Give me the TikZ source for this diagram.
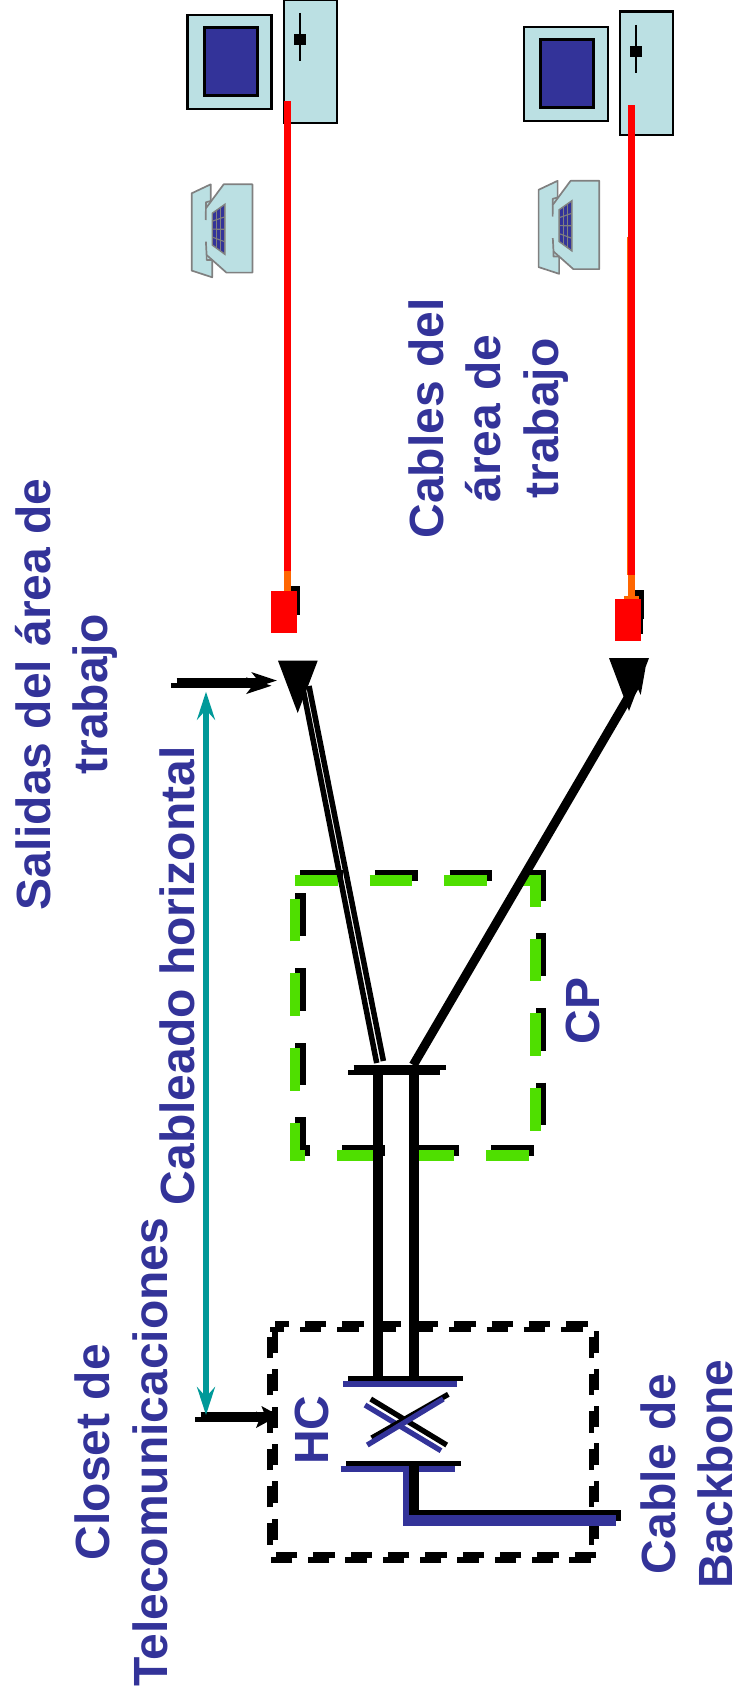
\documentclass[tikz,border=0pt]{standalone}
\usepackage{fontspec}
\usetikzlibrary{arrows.meta}
\newfontfamily\lblfam{Liberation Sans}
\newcommand{\lblfont}{\lblfam\bfseries\fontsize{48}{57.5}\selectfont}
\definecolor{hcblue}{HTML}{333399}
\definecolor{pcfill}{HTML}{BBE0E3}
\definecolor{cpgreen}{HTML}{4FDF00}
\definecolor{spanteal}{HTML}{009999}
\definecolor{jackorange}{HTML}{FF6600}
\begin{document}
\begin{tikzpicture}[x=1pt,y=-1pt,
 lbl/.style={text=hcblue,font=\lblfont,align=center,rotate=90,inner sep=0pt},
 redcable/.style={red,line width=6.5pt},
 orangecable/.style={jackorange,line width=6.5pt},
 plug/.style={fill=red,minimum width=26pt,minimum height=42pt,inner sep=0pt},
 socket/.style={fill=black,minimum width=15pt,minimum height=29pt,inner sep=0pt},
 thickblack/.style={black,line width=10.67pt},
 bar/.style={line width=5.33pt},
 pair/.style={black,line width=5.5pt},
 cpdash/.style={line width=10.67pt,dash pattern=on 42.67pt off 32pt},
 hcdash/.style={black,line width=5.33pt,dash pattern=on 21.33pt off 16pt,dash phase=7.33pt},
 note/.style={black,line width=5.33pt,-{Stealth[length=25pt,width=16pt,inset=6pt]}},
 shortnote/.style={black,line width=5.33pt,-{Stealth[length=15pt,width=16pt,inset=3pt]}},
 span/.style={spanteal,line width=5.33pt,{Stealth[length=28pt,width=18pt,inset=10pt]}-{Stealth[length=28pt,width=18pt,inset=10pt]}},
 pcset/.pic={
   \draw[fill=pcfill,line width=2.2pt] (1,1) rectangle (85,95);
   \draw[fill=hcblue,line width=3pt] (17.9,13.5) rectangle (71.2,81.5);
   \draw[fill=pcfill,line width=2.2pt] (97.2,-14.5) rectangle (150.2,109.3);
   \draw[line width=1.7pt] (113.7,-1) -- (113.7,47);
   \fill (107.7,20) rectangle (119.2,31);
 },
 phone/.pic={
   \fill[pcfill] (0,9) -- (19,0) -- (19,17) -- (32,0) -- (60.7,0) -- (60.7,88.3) -- (34.7,88.3)
     -- (20.5,75.7) -- (20.5,93) -- (0,86.3) -- cycle;
   \draw[gray,line width=1.7pt,line join=round] (14,35.7) -- (14.2,24) -- (32,0) -- (60.7,0)
     -- (60.7,88.3) -- (34.7,88.3) -- (14.9,70.7) -- (14.2,57.3);
   \draw[gray,line width=1.7pt,line join=round] (14.2,24) -- (14.2,18) -- (19,16.7) -- (19,0) -- (0,9)
     -- (0,86.3) -- (20.5,93) -- (20.5,75.7) -- (14.9,75.7) -- (14.9,70.7);
   \draw[gray,fill=hcblue,line width=1.4pt] (20.5,29) -- (33.2,20) -- (33.2,70) -- (20.5,60.7) -- cycle;
   \foreach \c in {24.7,29} \draw[gray,line width=1.1pt] (\c,{29-(\c-20.5)*.71}) -- (\c,{60.7+(\c-20.5)*.73});
   \foreach \r in {.25,.5,.75} \draw[gray,line width=1.1pt] (20.5,{29+\r*31.7}) -- (33.2,{20+\r*50});
 }]
\useasboundingbox (0,0) rectangle (735,1702);

% work areas
\pic at (186.5,14) {pcset};
\pic at (522.6,26) {pcset};
\pic at (191.7,184.3) {phone};
\pic at (538.6,180.8) {phone};

% outlets
\coordinate (pc1end) at (287.3,101);
\coordinate (pc2end) at (631.3,105);
\coordinate (bend1) at (287.3,571);
\coordinate (bend2) at (631.3,575);
\coordinate (seam2a) at (627.4,237);
\coordinate (seam2b) at (627.4,575);
\node[socket] (socket1) at (292.5,600.5) {};
\node[socket] (socket2) at (636.5,604.5) {};
\fill (640,619) rectangle (642.7,634);
\draw[jackorange,line width=1pt] (seam2a) -- (seam2b);
\draw[redcable] (pc1end) -- (bend1);
\draw[redcable] (pc2end) -- (bend2);
\node[plug] (plug1) at (283.7,612) {};
\node[plug] (plug2) at (628,620) {};
\draw[orangecable] (bend1) -- (plug1.north -| bend1);
\draw[orangecable] (bend2) -- (plug2.north -| bend2);
\fill[jackorange] (624,596) rectangle (639,599);

% dashed boxes
\coordinate (cpa) at (300.3,875.4);
\coordinate (cpb) at (541,1150.4);
\coordinate (cpc) at (295,880.7);
\coordinate (cpd) at (535.7,1155.7);
\draw[cpdash,black] (cpa) -| (cpb) -| (cpa) -- cycle;
\draw[cpdash,cpgreen] (cpc) -| (cpd) -| (cpc) -- cycle;
\coordinate (hca) at (275,1324);
\coordinate (hcb) at (596.3,1555);
\coordinate (hcc) at (270,1329.3);
\coordinate (hcd) at (591.3,1560);
\draw[hcdash] (hca) -| (hcb) -| (hca) -- cycle;
\draw[hcdash] (hcc) -| (hcd) -| (hcc) -- cycle;

% outlet wedges
\coordinate (wedge1) at (297.7,713);
\coordinate (wedge2) at (629,711);
\fill (278,660.7) -- (317.7,660.7) -- (wedge1) -- cycle;
\fill (609,658) -- (649,658) -- (wedge2) -- cycle;

% horizontal cables
\coordinate (cpleft) at (376.7,1063);
\coordinate (cpmid) at (383.4,1061);
\coordinate (cpright) at (413.3,1065);
\coordinate (left1) at (302.5,686);
\coordinate (left2) at (309,686);
\coordinate (right1) at (645.5,668);
\draw[pair] (cpleft) -- (left1);
\draw[pair] (cpmid) -- (left2);
\draw[black,line width=9pt,-{Stealth[length=25pt,width=18pt,inset=6pt]}] (cpright) -- (right1);
\draw[bar] (353.7,1067.3) -- (445.7,1067.3);
\draw[bar] (348.3,1072.7) -- (440.3,1072.7);
\draw[thickblack] (378,1075) -- (378,1376);
\draw[thickblack] (414,1075) -- (414,1376);

% cross connect
\draw[bar] (348.3,1378.8) -- (462.7,1378.8);
\draw[bar,hcblue] (343,1384) -- (457.3,1384);
\draw[bar] (370.7,1399) -- (446.7,1445);
\draw[bar,hcblue] (365,1405) -- (441,1450.7);
\draw[bar] (371.7,1438) -- (448.3,1394.3);
\draw[bar,hcblue] (367.3,1445) -- (443.3,1399);
\draw[bar] (346,1463.7) -- (460.7,1463.7);
\draw[bar,hcblue] (340.7,1469) -- (455.3,1469);

% backbone
\coordinate (hcblack) at (414,1465);
\coordinate (hcviolet) at (408.7,1470);
\coordinate (cornerviolet) at (408.7,1526);
\coordinate (riserblack) at (621.3,1515.3);
\coordinate (riserleft) at (405.7,1520.7);
\coordinate (riserviolet) at (616,1520.7);
\draw[thickblack,hcblue] (hcviolet) -- (cornerviolet);
\draw[thickblack] (hcblack) |- (riserblack);
\draw[thickblack,hcblue] (riserleft) -- (riserviolet);

% pointers
\coordinate (out1) at (176.7,680.5);
\coordinate (out2) at (171,685.7);
\coordinate (tip1) at (277,680.5);
\coordinate (tip2) at (271.7,685.7);
\draw[note] (out1) -- (tip1);
\draw[note] (out2) -- (tip2);
\coordinate (clo1) at (200.7,1414.3);
\coordinate (clo2) at (195.3,1419.7);
\coordinate (tip3) at (276.7,1414.3);
\coordinate (tip4) at (271.3,1419.7);
\draw[shortnote] (clo1) -- (tip3);
\draw[shortnote] (clo2) -- (tip4);
\coordinate (spantop) at (206,691.7);
\coordinate (spanbot) at (206,1415);
\draw[span] (spantop) -- (spanbot);

% labels
\node[lbl] (salidas) at (66.4,694.5) {Salidas del área de\\trabajo};
\node[lbl] (horiz) at (177.4,975.7) {Cableado horizontal};
\node[lbl] (closet) at (121.4,1452) {Closet de\\Telecomunicaciones};
\node[lbl] (cables) at (488.4,418.5) {Cables del\\área de\\trabajo};
\node[lbl] (cp) at (583,1011) {CP};
\node[lbl] (hc) at (311.7,1430) {HC};
\node[lbl] (backbone) at (687,1474) {Cable de\\Backbone};
\end{tikzpicture}
\end{document}
